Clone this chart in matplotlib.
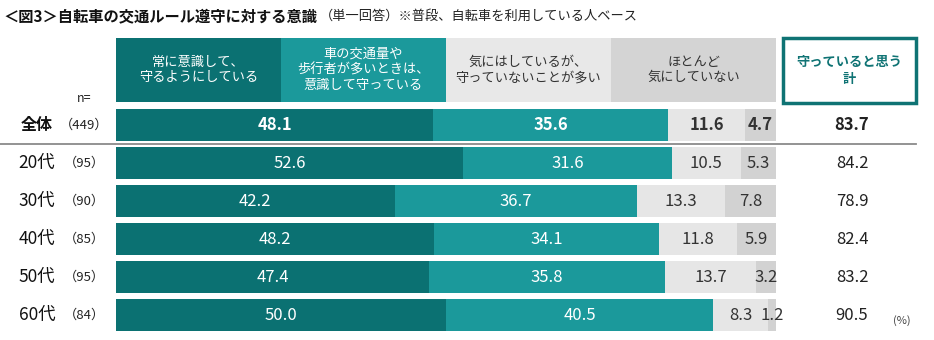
import numpy as np
import matplotlib.pyplot as plt
from matplotlib.patches import Rectangle
import matplotlib.transforms as mtransforms

plt.rcParams['font.family'] = ['Noto Sans CJK JP', 'DejaVu Sans']

# データ
groups = ['全体', '20代', '30代', '40代', '50代', '60代']
n_values = ['449', '95', '90', '85', '95', '84']
always = [48.1, 52.6, 42.2, 48.2, 47.4, 50.0]
when_busy = [35.6, 31.6, 36.7, 34.1, 35.8, 40.5]
not_keep = [11.6, 10.5, 13.3, 11.8, 13.7, 8.3]
not_care = [4.7, 5.3, 7.8, 5.9, 3.2, 1.2]
keep_total = [83.7, 84.2, 78.9, 82.4, 83.2, 90.5]

headers = ['常に意識して、\n守るようにしている',
           '車の交通量や\n歩行者が多いときは、\n意識して守っている',
           '気にはしているが、\n守っていないことが多い',
           'ほとんど\n気にしていない']
total_header = '守っていると思う\n計'

colors = ['#0b7172', '#1b999b', '#e6e6e6', '#d2d2d2']
header_colors = ['#0b7172', '#1b999b', '#e8e8e8', '#d4d4d4']
text_colors = ['white', 'white', '#333333', '#333333']

W, H = 934, 340
fig = plt.figure(figsize=(W / 100, H / 100), dpi=100)
px = 660 / 100  # pixels per percent
ax = fig.add_axes([116 / W, 0, 660 / W, 1])
ax.set_xlim(0, 100)
ax.set_ylim((H - 125) / 38, -125 / 38)
ax.axis('off')

y = np.arange(len(groups))
series = [always, when_busy, not_keep, not_care]
left = np.zeros(len(groups))
for k, vals in enumerate(series):
    vals = np.array(vals)
    ax.barh(y, vals, left=left, height=32 / 38, color=colors[k], linewidth=0)
    for i, v in enumerate(vals):
        ax.text(left[i] + v / 2, y[i], f'{v:.1f}', ha='center', va='center',
                fontsize=12, color=text_colors[k],
                fontweight='bold' if i == 0 else 'normal')
    left += vals

# ヘッダー
hy = (70 - 125) / 38
for k, h in enumerate(headers):
    ax.barh(hy, 25, left=25 * k, height=64 / 38, color=header_colors[k], linewidth=0)
    ax.text(25 * k + 12.5, hy, h, ha='center', va='center', fontsize=9.5,
            color=text_colors[k], linespacing=1.25)

x0 = (783 - 116) / px
x1 = (916 - 116) / px
y0 = (38 - 125) / 38
y1 = (103 - 125) / 38
ax.add_patch(Rectangle((x0, y0), x1 - x0, y1 - y0, fill=False,
                       edgecolor='#0f7374', linewidth=2.5, clip_on=False))
ax.text((x0 + x1) / 2, (y0 + y1) / 2, total_header, ha='center', va='center',
        fontsize=9.5, fontweight='bold', color='#0f7374', linespacing=1.3)

xc = (852 - 116) / px
for i, v in enumerate(keep_total):
    ax.text(xc, y[i], f'{v:.1f}', ha='center', va='center', fontsize=12,
            color='#222222', fontweight='bold' if i == 0 else 'normal')

# 行ラベル
trans = mtransforms.blended_transform_factory(fig.transFigure, ax.transData)
for i, (g, n) in enumerate(zip(groups, n_values)):
    ax.text(37 / W, y[i], g, transform=trans, ha='center', va='center',
            fontsize=12.5 if i else 11.5, fontweight='bold' if i == 0 else 'normal',
            color='#111111')
    ax.text(84 / W, y[i], f'（{n}）', transform=trans, ha='center', va='center',
            fontsize=9.5, color='#222222')

ax.text(84 / W, (99 - 125) / 38, 'n=', transform=trans, ha='center',
        va='center', fontsize=9, color='#222222')
ax.text(902 / W, y[-1] + 0.15, '(%)', transform=trans, ha='center',
        va='center', fontsize=8, color='#444444')

ax.plot([0, 916 / W], [(143.5 - 125) / 38] * 2, transform=trans,
        color='#8a8a8a', linewidth=1.3, clip_on=False)

# タイトル
title = fig.text(3 / W, 1 - 16 / H, '＜図3＞自転車の交通ルール遵守に対する意識',
                 ha='left', va='center', fontsize=11, fontweight='bold',
                 color='#111111')
fig.add_artist(plt.Annotation('（単一回答）※普段、自転車を利用している人ベース',
                              xy=(1, 0.5), xycoords=title, xytext=(2, 0),
                              textcoords='offset points', ha='left', va='center',
                              fontsize=9.5, color='#222222'))

fig.savefig('out.png', dpi=100)
